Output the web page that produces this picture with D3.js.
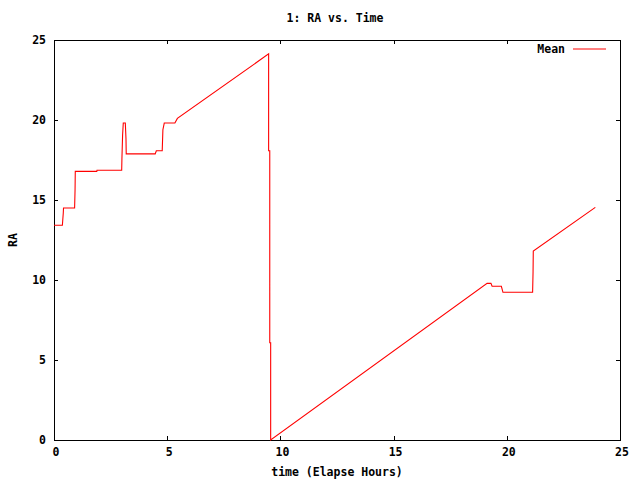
<!DOCTYPE html>
<html lang="en">
<head>
    <meta charset="UTF-8">
    <title>1: RA vs. Time</title>
    <script src="https://d3js.org/d3.v7.min.js"></script>
    <style>
        body {
            margin: 0;
            padding: 0;
            background-color: #ffffff;
        }
        svg text {
            font-family: "DejaVu Sans Mono", "Liberation Mono", monospace;
            font-weight: bold;
            font-size: 11.5px;
            fill: #000;
        }
    </style>
</head>
<body>
    <svg id="chart" width="640" height="480"></svg>

    <script>
        // Mean RA readings, as (hours, RA) vertices
        const timeHours = [
            0, 0.37, 0.41, 0.42, 0.91, 0.93, 0.94, 1.89, 1.9, 2.99,
            3.0, 3.03, 3.06, 3.15, 3.18, 3.19, 4.47, 4.52, 4.78, 4.81,
            4.87, 5.34, 5.45, 9.48, 9.48, 9.53, 9.53, 9.57, 9.57, 19.13,
            19.3, 19.35, 19.76, 19.83, 21.14, 21.16, 21.17, 23.91
        ];
        const meanRA = [
            13.42, 13.42, 14.19, 14.5, 14.5, 15.63, 16.79, 16.79, 16.86, 16.86,
            17.56, 19.06, 19.81, 19.81, 18.81, 17.88, 17.88, 18.08, 18.08, 19.39,
            19.81, 19.81, 20.1, 24.13, 18.08, 18.08, 6.08, 6.08, 0, 9.79,
            9.79, 9.61, 9.61, 9.23, 9.23, 10.52, 11.81, 14.54
        ];
        const xTicks = [0, 5, 10, 15, 20, 25];
        const yTicks = [0, 5, 10, 15, 20, 25];
        const seriesName = "Mean";

        const data = timeHours.map((t, i) => ({ t: t, v: meanRA[i] }));

        const svg = d3.select("#chart");
        const plot = { left: 54, right: 620, top: 40, bottom: 440 };

        const xScale = d3.scaleLinear().domain([0, 25]).range([plot.left, plot.right]);
        const yScale = d3.scaleLinear().domain([0, 25]).range([plot.bottom, plot.top]);

        // inward ticks on all four sides, gnuplot style
        const axes = svg.append("g").attr("shape-rendering", "crispEdges");

        axes.append("g")
            .attr("transform", `translate(1.5,${plot.bottom})`)
            .call(d3.axisBottom(xScale).tickValues(xTicks).tickSize(-4).tickPadding(8).tickFormat(d3.format("d")))
            .call(g => g.select(".domain").attr("transform", "translate(-1.5,0)"))
            .call(g => g.selectAll(".tick line").attr("transform", "translate(-1.5,0)"));
        axes.append("g")
            .attr("transform", `translate(0,${plot.top})`)
            .call(d3.axisTop(xScale).tickValues(xTicks).tickSize(-4).tickFormat(""));
        axes.append("g")
            .attr("transform", `translate(${plot.left},0)`)
            .call(d3.axisLeft(yScale).tickValues(yTicks).tickSize(-4).tickPadding(8).tickFormat(d3.format("d")));
        axes.append("g")
            .attr("transform", `translate(${plot.right},0)`)
            .call(d3.axisRight(yScale).tickValues(yTicks).tickSize(-4).tickFormat(""));

        axes.selectAll(".domain").attr("stroke", "#000").attr("stroke-width", 1);
        axes.selectAll(".tick line").attr("stroke", "#000");
        axes.selectAll(".tick text")
            .attr("font-family", null)
            .attr("font-size", null)
            .attr("fill", "#000");

        // data line
        const line = d3.line()
            .x(d => xScale(d.t))
            .y(d => yScale(d.v));

        svg.append("path")
            .datum(data)
            .attr("d", line)
            .attr("fill", "none")
            .attr("stroke", "#ff0000")
            .attr("stroke-width", 1.1);

        // titles
        svg.append("text")
            .attr("x", 335)
            .attr("y", 22)
            .attr("text-anchor", "middle")
            .text("1: RA vs. Time");

        svg.append("text")
            .attr("x", 337)
            .attr("y", 476)
            .attr("text-anchor", "middle")
            .text("time (Elapse Hours)");

        svg.append("text")
            .attr("transform", "translate(17,240) rotate(-90)")
            .attr("text-anchor", "middle")
            .text("RA");

        // legend
        const legend = svg.append("g").attr("class", "legend");
        legend.append("text")
            .attr("x", 565)
            .attr("y", 53)
            .attr("text-anchor", "end")
            .text(seriesName);
        legend.append("line")
            .attr("x1", 573)
            .attr("x2", 606)
            .attr("y1", 49)
            .attr("y2", 49)
            .attr("stroke", "#ff0000")
            .attr("stroke-width", 1.1);
    </script>
</body>
</html>
